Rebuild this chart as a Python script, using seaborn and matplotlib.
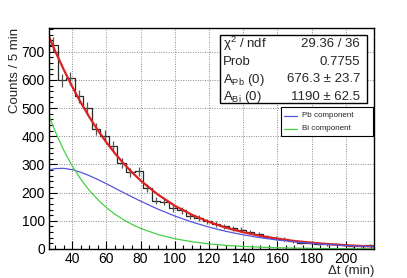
import numpy as np
import pandas as pd
import seaborn as sns
import matplotlib
matplotlib.use("Agg")
import matplotlib.pyplot as plt
from matplotlib.patches import Rectangle
from matplotlib.lines import Line2D
from matplotlib.ticker import MultipleLocator

# histogram: 38 bins of 5 min, from 26.5 to 216.5 min
bin_edges = [26.5 + 5 * i for i in range(39)]
counts = [725, 598, 605, 542, 500, 425, 402, 365, 306, 272,
          276, 216, 172, 168, 144, 137, 117, 109, 98, 89,
          80, 73, 69, 61, 52, 44, 39, 35, 27, 23,
          22, 19, 16, 18, 14, 12, 11, 13]

# fit components
curve_t = [26.5, 30, 35, 40, 45, 50, 55, 60, 65, 70, 75, 80, 90, 100, 110,
           120, 130, 140, 150, 160, 170, 180, 190, 200, 210, 216.5]
pb_comp = [280.0, 285.2, 286.2, 281.4, 272.4, 260.4, 246.6, 231.6, 216.0, 200.3,
           184.9, 169.9, 141.9, 117.1, 95.7, 77.7, 62.6, 50.3, 40.1, 31.9,
           25.3, 20.0, 15.8, 12.4, 9.7, 8.3]
bi_comp = [472.8, 418.5, 351.6, 295.4, 248.2, 208.5, 175.2, 147.2, 123.7, 103.9,
           87.3, 73.3, 51.8, 36.5, 25.8, 18.2, 12.9, 9.1, 6.4, 4.5,
           3.2, 2.3, 1.6, 1.1, 0.8, 0.6]

stats_names = ["\u03c7$^{2}$ / ndf", "Prob", r"A$_{\mathrm{Pb}}$ (0)", r"A$_{\mathrm{Bi}}$ (0)"]
stats_values = ["29.36 / 36", "0.7755", "676.3 \u00b1 23.7", "1190 \u00b1 62.5"]
legend_labels = ["Pb component", "Bi component"]

sns.set_style("ticks")
plt.rcParams['font.family'] = ['Liberation Sans', 'DejaVu Sans']
plt.rcParams['mathtext.fontset'] = 'custom'
plt.rcParams['mathtext.rm'] = 'Liberation Sans'
plt.rcParams['mathtext.it'] = 'Liberation Sans:italic'

W, H = 407, 278
fig = plt.figure(figsize=(W / 100, H / 100), dpi=100)
ax = fig.add_axes([49 / W, 1 - 249 / H, (374 - 49) / W, (249 - 28) / H])

edges = np.array(bin_edges)
centers = (edges[:-1] + edges[1:]) / 2
df = pd.DataFrame({"t": centers, "n": counts})
errs = np.sqrt(df["n"])

sns.histplot(x=df["t"], weights=df["n"], bins=bin_edges, element="step",
             fill=False, color="#2a2a2a", linewidth=0.9, ax=ax)
ax.errorbar(df["t"], df["n"], yerr=errs, fmt="none", ecolor="#555555",
            elinewidth=0.9, capsize=0)

fit_total = np.array(pb_comp) + np.array(bi_comp)
sns.lineplot(x=curve_t, y=fit_total, color="#dd2020", linewidth=1.6, ax=ax)
sns.lineplot(x=curve_t, y=pb_comp, color="#5555e0", linewidth=0.9, ax=ax)
sns.lineplot(x=curve_t, y=bi_comp, color="#44d044", linewidth=0.9, ax=ax)

ax.set_xlim(26.5, 216.5)
ax.set_ylim(0, 784)
ax.xaxis.set_major_locator(MultipleLocator(20))
ax.xaxis.set_minor_locator(MultipleLocator(5))
ax.yaxis.set_major_locator(MultipleLocator(100))
ax.yaxis.set_minor_locator(MultipleLocator(20))
ax.tick_params(which="both", direction="in", labelsize=10, colors="black")
ax.tick_params(which="major", length=6, width=0.8)
ax.tick_params(which="minor", length=3, width=0.8)
ax.tick_params(axis="x", pad=2.5)
ax.tick_params(axis="y", pad=3)
ax.grid(True, which="major", linestyle=(0, (1, 1.5)), color="#8a8a8a", linewidth=0.7)
for s in ax.spines.values():
    s.set_linewidth(1.0)
    s.set_color("black")

ax.set_xlabel("")
ax.set_ylabel("")
fig.text(374 / W, 1 - 271 / H, "\u0394t (min)", ha="right", va="center", fontsize=9.5)
fig.text(15 / W, 1 - 28 / H, "Counts / 5 min", ha="center", va="top",
         rotation=90, fontsize=9.5)

# stats box
fig.add_artist(Rectangle((220 / W, 1 - 103 / H), (367 - 220) / W, (103 - 35) / H,
                         transform=fig.transFigure, facecolor="white",
                         edgecolor="black", linewidth=1.0, zorder=5))
rows_y = [44, 62, 79.5, 96.5]
for name, val, yy in zip(stats_names, stats_values, rows_y):
    fig.text(223 / W, 1 - yy / H, name, ha="left", va="center", fontsize=9.5, zorder=6)
    fig.text(360 / W, 1 - yy / H, val, ha="right", va="center", fontsize=9.5, zorder=6)

# legend box
fig.add_artist(Rectangle((281 / W, 1 - 136 / H), (373 - 281) / W, (136 - 107) / H,
                         transform=fig.transFigure, facecolor="white",
                         edgecolor="black", linewidth=0.8, zorder=5))
for lab, col, yy in zip(legend_labels, ["#5555e0", "#44d044"], [115.5, 129]):
    fig.add_artist(Line2D([284 / W, 297 / W], [1 - yy / H, 1 - yy / H],
                          transform=fig.transFigure, color=col, linewidth=0.9, zorder=6))
    fig.text(302 / W, 1 - yy / H, lab, ha="left", va="center", fontsize=5.8, zorder=6)

fig.savefig("out.png", dpi=100)
